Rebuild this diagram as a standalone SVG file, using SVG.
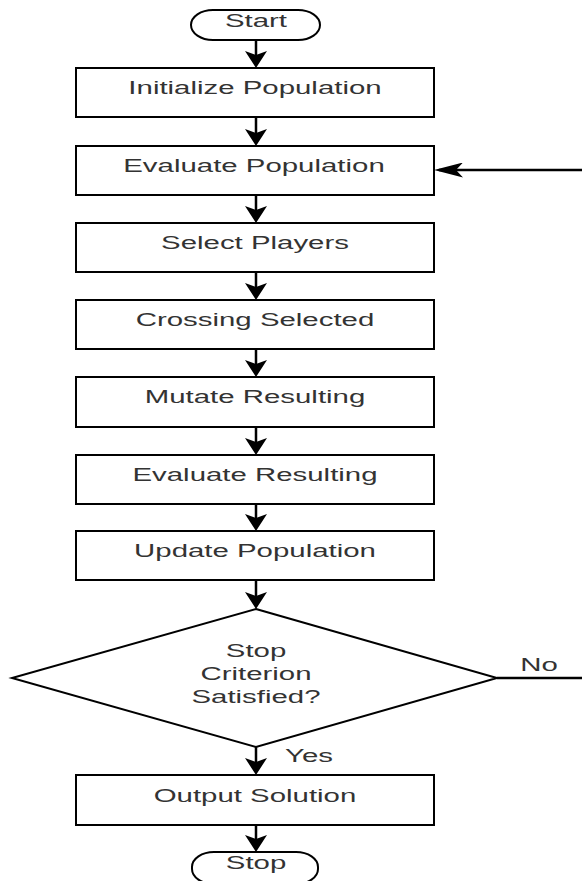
<svg xmlns="http://www.w3.org/2000/svg" width="582" height="881" viewBox="0 0 582 881">
<defs>
<style>
.box{fill:#fff;stroke:#000;stroke-width:2}
.lbl{font-family:"Liberation Sans",Arial,sans-serif;font-size:17.5px;fill:#333;text-anchor:middle}
.con{fill:none;stroke:#000;stroke-width:2.5}
</style>
<marker id="ad" markerUnits="userSpaceOnUse" orient="auto" viewBox="0 0 17 22" refX="13" refY="11" markerWidth="17" markerHeight="22">
<path d="M0,0 L17,11 L0,22 L4,11 Z" fill="#000"/>
</marker>
<marker id="al" markerUnits="userSpaceOnUse" orient="auto" viewBox="0 0 29 15" refX="24" refY="7.5" markerWidth="29" markerHeight="15">
<path d="M0,0 L29,7.5 L0,15 L7,7.5 Z" fill="#000"/>
</marker>
</defs>
<rect width="582" height="881" fill="#fff"/>
<g id="connectors">
<path class="con" marker-end="url(#ad)" d="M256,40 V64"/>
<path class="con" marker-end="url(#ad)" d="M256,117 V142"/>
<path class="con" marker-end="url(#ad)" d="M256,195 V219"/>
<path class="con" marker-end="url(#ad)" d="M256,272 V296"/>
<path class="con" marker-end="url(#ad)" d="M256,349 V373"/>
<path class="con" marker-end="url(#ad)" d="M256,427 V451"/>
<path class="con" marker-end="url(#ad)" d="M256,504 V527"/>
<path class="con" marker-end="url(#ad)" d="M256,580 V605"/>
<path class="con" marker-end="url(#ad)" d="M256,747 V771"/>
<path class="con" marker-end="url(#ad)" d="M256,825 V848"/>
<path class="con" marker-end="url(#al)" d="M497,678 H586 V170 H439"/>
<text class="lbl" transform="translate(309,762) scale(1.68,1)">Yes</text>
<text class="lbl" transform="translate(539,671) scale(1.68,1)">No</text>
</g>
<g id="start">
<rect class="box" x="191" y="10" width="129" height="30" rx="22" ry="15"/>
<text class="lbl" transform="translate(256,27) scale(1.68,1)">Start</text>
</g>
<g id="init">
<rect class="box" x="76" y="68" width="358" height="49"/>
<text class="lbl" transform="translate(255,94) scale(1.68,1)">Initialize Population</text>
</g>
<g id="evalpop">
<rect class="box" x="76" y="146" width="358" height="49"/>
<text class="lbl" transform="translate(254,172) scale(1.68,1)">Evaluate Population</text>
</g>
<g id="select">
<rect class="box" x="76" y="223" width="358" height="49"/>
<text class="lbl" transform="translate(255,249) scale(1.68,1)">Select Players</text>
</g>
<g id="cross">
<rect class="box" x="76" y="300" width="358" height="49"/>
<text class="lbl" transform="translate(255,326) scale(1.68,1)">Crossing Selected</text>
</g>
<g id="mutate">
<rect class="box" x="76" y="377" width="358" height="50"/>
<text class="lbl" transform="translate(255,403) scale(1.68,1)">Mutate Resulting</text>
</g>
<g id="evalres">
<rect class="box" x="76" y="455" width="358" height="49"/>
<text class="lbl" transform="translate(255,481) scale(1.68,1)">Evaluate Resulting</text>
</g>
<g id="update">
<rect class="box" x="76" y="531" width="358" height="49"/>
<text class="lbl" transform="translate(255,557) scale(1.68,1)">Update Population</text>
</g>
<g id="decision">
<polygon class="box" points="256,609 497,678 256,747 12,678"/>
<text class="lbl" transform="translate(256,657) scale(1.68,1)">Stop</text>
<text class="lbl" transform="translate(256,680) scale(1.68,1)">Criterion</text>
<text class="lbl" transform="translate(256,703) scale(1.68,1)">Satisfied?</text>
</g>
<g id="output">
<rect class="box" x="76" y="775" width="358" height="50"/>
<text class="lbl" transform="translate(255,802) scale(1.68,1)">Output Solution</text>
</g>
<g id="stop">
<rect class="box" x="192" y="852" width="126" height="32" rx="22" ry="15"/>
<text class="lbl" transform="translate(256,869) scale(1.68,1)">Stop</text>
</g>
</svg>
